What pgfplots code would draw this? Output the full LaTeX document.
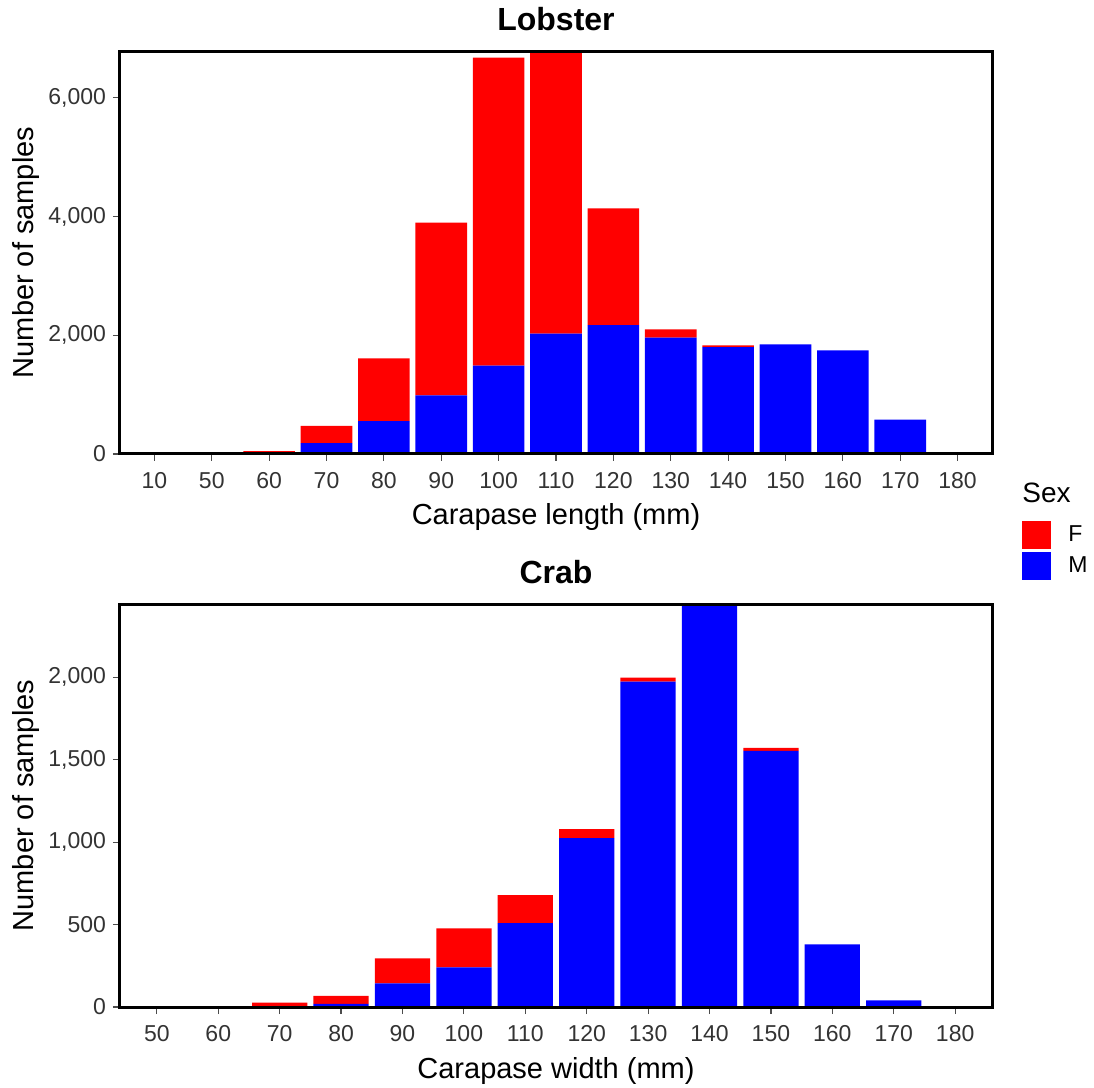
\documentclass[border=0pt]{standalone}
\usepackage{pgfplots}
\pgfplotsset{compat=1.18}
\usepackage{pgfplotstable}
\usepackage{fontspec}
\setmainfont{Liberation Sans}
\definecolor{ggred}{HTML}{FF0000}
\definecolor{ggblue}{HTML}{0000FF}

\pgfplotstableread{
x M F
0 0 0
1 0 0
2 0 50
3 182 293
4 553 1057
5 986 2914
6 1490 5190
7 2030 4800
8 2170 1970
9 1960 140
10 1800 30
11 1845 0
12 1745 0
13 580 0
14 0 0
}\lobster

\pgfplotstableread{
x M F
0 0 0
1 0 0
2 0 27
3 19 49
4 143 152
5 240 237
6 508 170
7 1024 55
8 1973 24
9 2450 0
10 1553 18
11 380 0
12 40 0
13 0 0
}\crab

\pgfplotsset{
  ggbase/.style={
    scale only axis, width=436pt, height=201.5pt,
    ybar stacked, bar width=0.9,
    ymin=0,
    axis line style={line width=1.5pt, black},
    tick align=outside, tick pos=left,
    major tick length=3.5pt,
    tick style={line width=0.6pt, black!70},
    ticklabel style={font=\fontsize{11.5}{13}\selectfont, text=black!80},
    xticklabel style={yshift=-2pt},
    /pgf/number format/assume math mode=true,
    /pgf/number format/1000 sep={,},
    scaled y ticks=false,
    label style={font=\fontsize{14.5}{17}\selectfont},
    title style={font=\bfseries\fontsize{16}{19}\selectfont, anchor=base, at={([yshift=4.5pt]axis description cs:0.5,1)}},
    xlabel style={at={([yshift=-35.5pt]axis description cs:0.5,0)}, anchor=base},
    ylabel style={at={([xshift=-47pt]axis description cs:0,0.5)}, anchor=center},
    axis on top,
  }
}

\begin{document}
\begin{tikzpicture}
\useasboundingbox (0,0) rectangle (547pt,-544pt);
\begin{axis}[ggbase,
  at={(60pt,-25.5pt)}, anchor=north west,
  title={Lobster},
  xlabel={Carapase length (mm)},
  ylabel={Number of samples},
  xmin=-0.6, xmax=14.6, ymax=6790,
  xtick={0,...,14},
  xticklabels={10,50,60,70,80,90,100,110,120,130,140,150,160,170,180},
  ytick={0,2000,4000,6000},
  reverse legend,
  legend image code/.code={\fill[#1] (0pt,-7pt) rectangle (14.5pt,7pt);},
  legend style={draw=none, fill=none, at={(1.0344,-0.166)}, anchor=north west,
    font=\fontsize{11.5}{13}\selectfont, row sep=1.5pt, column sep=8.5pt,
    inner sep=0pt, nodes={inner sep=0pt}},
  legend cell align=left,
]
\addplot[fill=ggblue, draw=none] table[x=x, y=M]{\lobster};
\addlegendentry{M}
\addplot[fill=ggred, draw=none] table[x=x, y=F]{\lobster};
\addlegendentry{F}
\end{axis}

\begin{axis}[ggbase,
  at={(60pt,-302pt)}, anchor=north west,
  title={Crab},
  xlabel={Carapase width (mm)},
  ylabel={Number of samples},
  xmin=-0.6, xmax=13.6, ymax=2444,
  xtick={0,...,13},
  xticklabels={50,60,70,80,90,100,110,120,130,140,150,160,170,180},
  ytick={0,500,1000,1500,2000},
]
\addplot[fill=ggblue, draw=none] table[x=x, y=M]{\crab};
\addplot[fill=ggred, draw=none] table[x=x, y=F]{\crab};
\end{axis}

\node[anchor=base west, font=\fontsize{14}{17}\selectfont, inner sep=0pt] at (511pt,-251pt) {Sex};
\end{tikzpicture}
\end{document}
